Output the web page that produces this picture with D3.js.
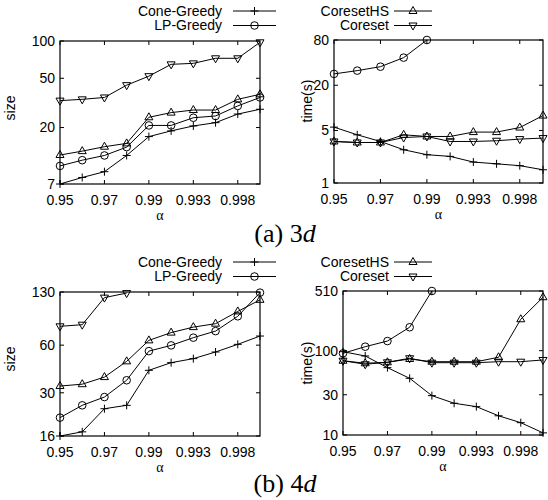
<!DOCTYPE html>
<html>
<head>
<meta charset="utf-8">
<script src="https://cdn.jsdelivr.net/npm/d3@7"></script>
<style>
  body { margin: 0; background: #fff; }
  svg { display: block; }
  text { font-family: "Liberation Sans", Arial, sans-serif; fill: #000; }
</style>
</head>
<body>
<div id="chart"></div>
<script>
// x categories (alpha), only every other one gets a label
const alphas = ["0.95", "0.96", "0.97", "0.98", "0.99", "0.992", "0.993", "0.995", "0.998", "0.999"];
const tickIdx = [0, 2, 4, 6, 8];

const algoNames = ["Cone-Greedy", "LP-Greedy", "CoresetHS", "Coreset"];
const algoMarks = ["plus", "circle", "up", "down"];

// (a) 3d - size
const size3dCone = [7, 7.9, 8.8, 11.9, 16.9, 18.8, 20.6, 21.9, 25.7, 28.1];
const size3dLP = [9.8, 10.9, 11.9, 13.9, 20.8, 20.8, 24, 24.8, 29.9, 35];
const size3dHS = [12, 12.9, 14, 14.9, 24.2, 26.4, 27.7, 27.7, 33.8, 37.1];
const size3dCoreset = [33, 33.8, 35, 44, 52, 64.8, 66, 72.5, 72.5, 97.6];
// (a) 3d - time
const time3dCone = [5.54, 4.38, 3.57, 2.77, 2.38, 2.26, 1.9, 1.8, 1.7, 1.5];
const time3dLP = [28.3, 31.3, 35.3, 46.6, 80];
const time3dHS = [3.57, 3.46, 3.46, 4.38, 4.16, 4.16, 4.76, 4.76, 5.47, 7.9];
const time3dCoreset = [3.57, 3.46, 3.46, 4.03, 4.16, 3.57, 3.57, 3.65, 3.84, 3.96];
// (b) 4d - size
const size4dCone = [16, 17, 23.8, 25, 41.6, 46.5, 49.3, 54.3, 60.7, 68.5];
const size4dLP = [20.9, 25, 28.2, 36, 55, 59.8, 66.9, 73.6, 91.3, 128.8];
const size4dHS = [33.1, 34, 37.7, 47.4, 64.3, 72, 78, 82, 98, 116];
const size4dCoreset = [78.9, 80.8, 119.8, 128];
// (b) 4d - time
const time4dCone = [97.3, 86.5, 62.9, 47, 29.3, 23.8, 21.7, 16.9, 14, 10.6];
const time4dLP = [93, 111.5, 130, 189.5, 510];
const time4dHS = [76, 70.9, 72.8, 79.7, 74, 74, 74, 83.5, 235.8, 430];
const time4dCoreset = [76, 69, 72.8, 81.3, 72, 72, 72, 74, 74, 77.6];

const panels = [
  { left: 60, right: 260, top: 41, bottom: 184, domain: [7, 100], ticks: [7, 20, 50, 100],
    ylabel: "size", ylx: 15, yly: 108,
    series: [size3dCone, size3dLP, size3dHS, size3dCoreset] },
  { left: 334, right: 543, top: 40, bottom: 183, domain: [1, 80], ticks: [1, 5, 20, 80],
    ylabel: "time(s)", ylx: 312, yly: 101,
    series: [time3dCone, time3dLP, time3dHS, time3dCoreset] },
  { left: 60, right: 260, top: 292, bottom: 436, domain: [16, 130], ticks: [16, 30, 60, 130],
    ylabel: "size", ylx: 15, yly: 359,
    series: [size4dCone, size4dLP, size4dHS, size4dCoreset] },
  { left: 343, right: 543, top: 291, bottom: 435, domain: [10, 510], ticks: [10, 30, 100, 510],
    ylabel: "time(s)", ylx: 312, yly: 363,
    series: [time4dCone, time4dLP, time4dHS, time4dCoreset] }
];

const svg = d3.select("#chart").append("svg")
  .attr("width", 548)
  .attr("height", 500);

// marker shapes, gnuplot style
function drawMark(g, type, x, y) {
  if (type === "plus") {
    g.append("path").attr("d", `M${x - 4},${y}H${x + 4}M${x},${y - 4}V${y + 4}`)
      .attr("stroke", "#000").attr("fill", "none");
  } else if (type === "circle") {
    g.append("circle").attr("cx", x).attr("cy", y).attr("r", 3.8)
      .attr("stroke", "#000").attr("fill", "none");
  } else if (type === "up") {
    g.append("path").attr("d", `M${x},${y - 4.5}L${x - 4},${y + 2.5}L${x + 4},${y + 2.5}Z`)
      .attr("stroke", "#000").attr("fill", "none");
  } else {
    g.append("path").attr("d", `M${x},${y + 4.5}L${x - 4},${y - 2.5}L${x + 4},${y - 2.5}Z`)
      .attr("stroke", "#000").attr("fill", "none");
  }
}

panels.forEach(p => {
  const g = svg.append("g");
  const x = d3.scaleLinear().domain([0, alphas.length - 1]).range([p.left, p.right]);
  const y = d3.scaleLog().domain(p.domain).range([p.bottom, p.top]);

  // tick marks (inward, mirrored)
  tickIdx.forEach(i => {
    g.append("line").attr("x1", x(i)).attr("x2", x(i)).attr("y1", p.bottom).attr("y2", p.bottom - 4).attr("stroke", "#000");
    g.append("line").attr("x1", x(i)).attr("x2", x(i)).attr("y1", p.top).attr("y2", p.top + 4).attr("stroke", "#000");
    g.append("text").attr("x", x(i)).attr("y", p.bottom + 21)
      .attr("text-anchor", "middle").style("font-size", "14px").text(alphas[i]);
  });
  p.ticks.forEach(t => {
    g.append("line").attr("x1", p.left).attr("x2", p.left + 4).attr("y1", y(t)).attr("y2", y(t)).attr("stroke", "#000");
    g.append("line").attr("x1", p.right).attr("x2", p.right - 4).attr("y1", y(t)).attr("y2", y(t)).attr("stroke", "#000");
    g.append("text").attr("x", p.left - 5).attr("y", y(t)).attr("dy", "0.35em")
      .attr("text-anchor", "end").style("font-size", "14px").text(t);
  });

  // frame
  g.append("rect").attr("x", p.left).attr("y", p.top)
    .attr("width", p.right - p.left).attr("height", p.bottom - p.top)
    .attr("fill", "none").attr("stroke", "#000").attr("stroke-width", 1.2);

  // axis labels
  g.append("text").attr("x", (p.left + p.right) / 2).attr("y", p.bottom + 36)
    .attr("text-anchor", "middle").style("font-family", "'Liberation Serif', serif")
    .style("font-size", "14px").text("α");
  g.append("text").attr("transform", `translate(${p.ylx},${p.yly}) rotate(-90)`)
    .attr("text-anchor", "middle").style("font-size", "14px").text(p.ylabel);

  // lines + markers
  const line = d3.line().x((d, i) => x(i)).y(d => y(d));
  p.series.forEach((s, k) => {
    g.append("path").datum(s).attr("d", line)
      .attr("fill", "none").attr("stroke", "#000").attr("stroke-width", 1);
    s.forEach((v, i) => drawMark(g, algoMarks[k], x(i), y(v)));
  });
});

// legends above each row of panels
[41, 292].forEach(top => {
  [[0, 222, 233, 276], [2, 389, 394, 432]].forEach(([k0, tx, lx1, lx2]) => {
    [0, 1].forEach(r => {
      const k = k0 + r;
      const ly = top - 30 + r * 14.5;
      svg.append("text").attr("x", tx).attr("y", ly).attr("dy", "0.35em")
        .attr("text-anchor", "end").style("font-size", "14px").text(algoNames[k]);
      svg.append("line").attr("x1", lx1).attr("x2", lx2).attr("y1", ly).attr("y2", ly)
        .attr("stroke", "#000");
      drawMark(svg, algoMarks[k], (lx1 + lx2) / 2, ly);
    });
  });
});

// captions
[["(a) ", "3", 242], ["(b) ", "4", 492]].forEach(([a, n, yy]) => {
  const t = svg.append("text").attr("x", 285).attr("y", yy).attr("text-anchor", "middle")
    .style("font-family", "'Liberation Serif', 'Times New Roman', serif").style("font-size", "26px");
  t.append("tspan").text(a + n);
  t.append("tspan").style("font-style", "italic").text("d");
});
</script>
</body>
</html>
